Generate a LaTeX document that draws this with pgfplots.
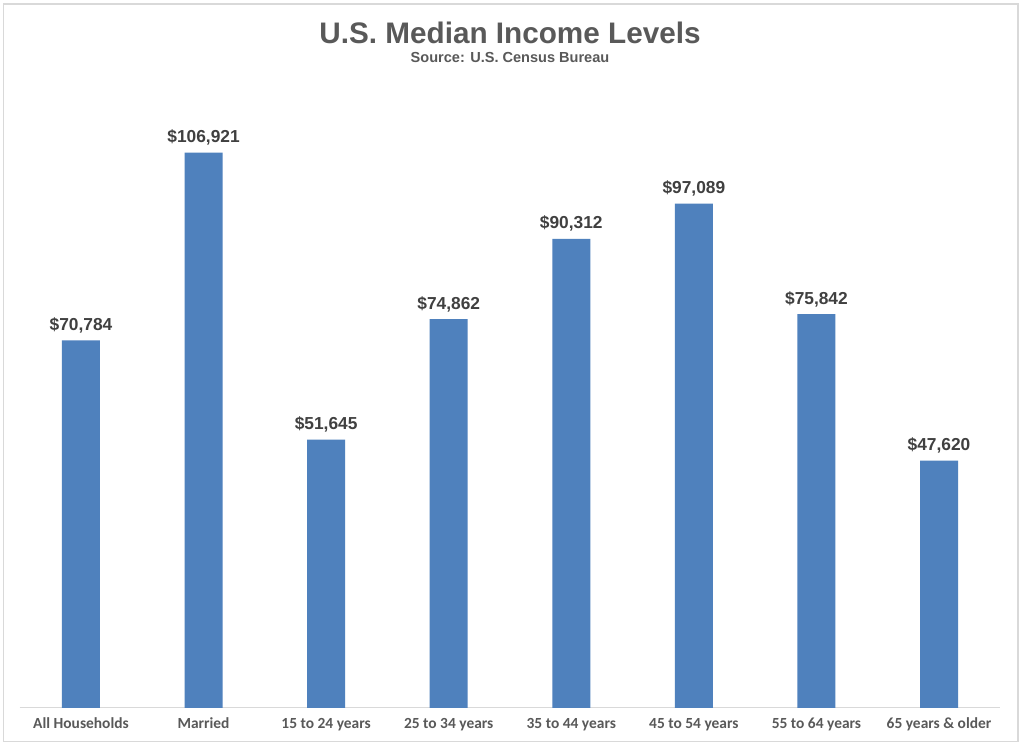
\documentclass[border=0pt]{standalone}
\usepackage{fontspec}
\setmainfont{Liberation Sans}
\newfontfamily\carlito{Carlito}
\usepackage{pgfplots}
\pgfplotsset{compat=1.18}
\definecolor{barblue}{HTML}{4F81BD}
\definecolor{framegray}{HTML}{D9D9D9}
\definecolor{titlegray}{HTML}{595959}
\definecolor{labelgray}{HTML}{404040}
\begin{document}
\begin{tikzpicture}[x=1bp,y=1bp]
\path[fill=white] (0,0) rectangle (1024,746);
\draw[framegray, line width=1.2bp] (3.5,4.5) rectangle (1018,742);
\node[font=\bfseries\fontsize{29.8}{32}\selectfont, text=titlegray] at (510,746-33) {U.S. Median Income Levels};
\node[font=\bfseries\fontsize{14.6}{16}\selectfont, text=titlegray] at (510,746-57.5) {Source: U.S. Census Bureau};
\begin{axis}[
  at={(19.7bp,38bp)}, anchor=south west,
  scale only axis,
  width=980.6bp, height=623.3bp,
  xmin=-0.5, xmax=7.5, ymin=0, ymax=120000,
  axis y line=none,
  axis x line*=bottom,
  x axis line style={draw=framegray, line width=1bp, -},
  xtick=data,
  xticklabels={All Households, Married, 15 to 24 years, 25 to 34 years, 35 to 44 years, 45 to 54 years, 55 to 64 years, 65 years \& older},
  xtick style={draw=none},
  major tick length=0pt,
  xticklabel style={font=\carlito\bfseries\fontsize{15.5}{17}\selectfont, text=titlegray, anchor=base, yshift=-20.5bp},
  clip=false,
  ybar, bar width=38bp,
  nodes near coords={\$\pgfmathprintnumber[fixed,precision=0,1000 sep={,},assume math mode=true]{\pgfplotspointmeta}},
  nodes near coords style={font=\bfseries\fontsize{17.4}{19}\selectfont, text=labelgray, anchor=base, yshift=10bp},
]
\addplot[fill=barblue, draw=none] coordinates {
  (0,70784) (1,106921) (2,51645) (3,74862) (4,90312) (5,97089) (6,75842) (7,47620)
};
\end{axis}
\end{tikzpicture}
\end{document}
